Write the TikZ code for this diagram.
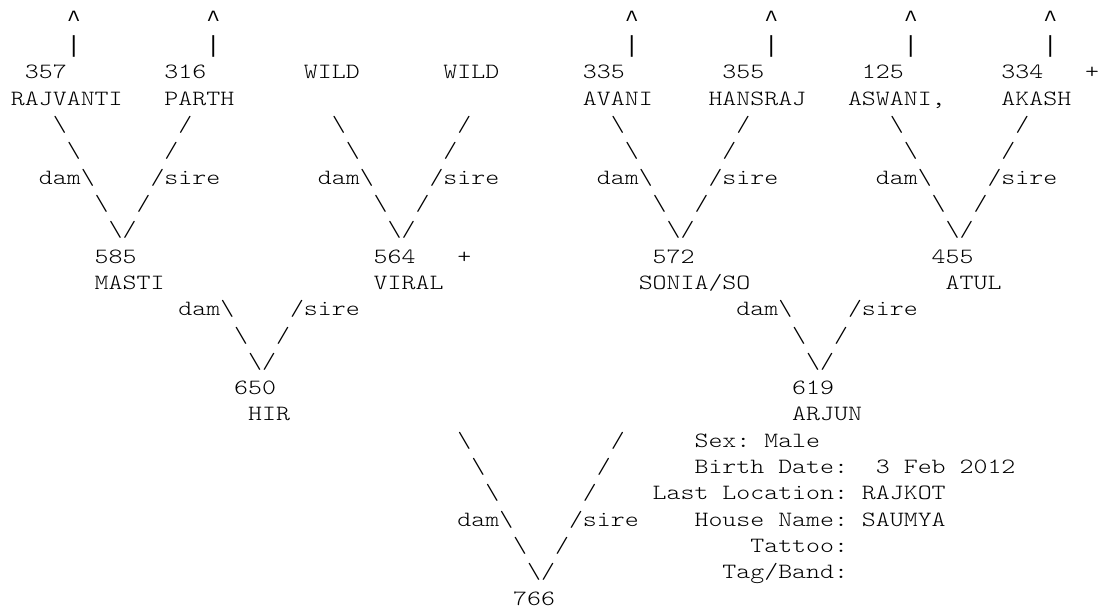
\documentclass[tikz,border=0pt]{standalone}
\usepackage{fontspec}
\setmonofont{lmmonolt10-regular.otf}[FakeStretch=1.2204]
\newfontfamily\markfont{Liberation Mono}
\newcommand{\bsl}{\textbackslash}

\begin{document}
\begin{tikzpicture}[x=10.4625pt,y=19.725pt,
  every node/.style={font=\ttfamily\fontsize{16.33pt}{19.7pt}\selectfont\frenchspacing,
    anchor=base west,inner sep=0pt,outer sep=0pt},
  markglyph/.style={font=\markfont\fontsize{17.44pt}{19.7pt}\selectfont}]
\useasboundingbox (-8.25pt,19.8pt) rectangle (820.5pt,-437.7pt);

\foreach \c in {4,14,44,54,64,74} {
  \node[markglyph] (up\c) at (\c,0) {\textasciicircum};
  \node[markglyph] (bar\c) at (\c,-1) {\textbar};
}

\node (n357) at (1,-2) {357};
\node (n316) at (11,-2) {316};
\node (wildA) at (21,-2) {WILD};
\node (wildB) at (31,-2) {WILD};
\node (n335) at (41,-2) {335};
\node (n355) at (51,-2) {355};
\node (n125) at (61,-2) {125};
\node (n334) at (71,-2) {334};
\node (plusA) at (77,-2) {+};

\node (rajvanti) at (0,-3) {RAJVANTI};
\node (parth) at (11,-3) {PARTH};
\node (avani) at (41,-3) {AVANI};
\node (hansraj) at (50,-3) {HANSRAJ};
\node (aswani) at (60,-3) {ASWANI,};
\node (akash) at (71,-3) {AKASH};

\foreach \g in {0,20,40,60} {
  \node (dA\g) at (3+\g,-4) {\bsl};
  \node (sA\g) at (12+\g,-4) {/};
  \node (dB\g) at (4+\g,-5) {\bsl};
  \node (sB\g) at (11+\g,-5) {/};
  \node (dam\g) at (2+\g,-6) {dam\bsl};
  \node (sire\g) at (10+\g,-6) {/sire};
  \node (dC\g) at (6+\g,-7) {\bsl};
  \node (sC\g) at (9+\g,-7) {/};
  \node (vee\g) at (7+\g,-8) {\bsl/};
}

\node (n585) at (6,-9) {585};
\node (n564) at (26,-9) {564};
\node (plusB) at (32,-9) {+};
\node (n572) at (46,-9) {572};
\node (n455) at (66,-9) {455};

\node (masti) at (6,-10) {MASTI};
\node (viral) at (26,-10) {VIRAL};
\node (sonia) at (45,-10) {SONIA/SO};
\node (atul) at (67,-10) {ATUL};

\foreach \g in {0,40} {
  \node (damM\g) at (12+\g,-11) {dam\bsl};
  \node (sireM\g) at (20+\g,-11) {/sire};
  \node (dM\g) at (16+\g,-12) {\bsl};
  \node (sM\g) at (19+\g,-12) {/};
  \node (veeM\g) at (17+\g,-13) {\bsl/};
}

\node (n650) at (16,-14) {650};
\node (n619) at (56,-14) {619};
\node (hir) at (17,-15) {HIR};
\node (arjun) at (56,-15) {ARJUN};

\foreach \r/\a/\b in {16/32/43,17/33/42,18/34/41,20/36/39} {
  \node (dL\r) at (\a,-\r) {\bsl};
  \node (sL\r) at (\b,-\r) {/};
}
\node (damL) at (32,-19) {dam\bsl};
\node (sireL) at (40,-19) {/sire};
\node (veeL) at (37,-21) {\bsl/};
\node (n766) at (36,-22) {766};

\node (sex) at (49,-16) {Sex: Male};
\node (birth) at (49,-17) {Birth Date:\ \ 3 Feb 2012};
\node (loc) at (46,-18) {Last Location: RAJKOT};
\node (house) at (49,-19) {House Name: SAUMYA};
\node (tattoo) at (53,-20) {Tattoo:};
\node (tag) at (51,-21) {Tag/Band:};
\end{tikzpicture}
\end{document}
